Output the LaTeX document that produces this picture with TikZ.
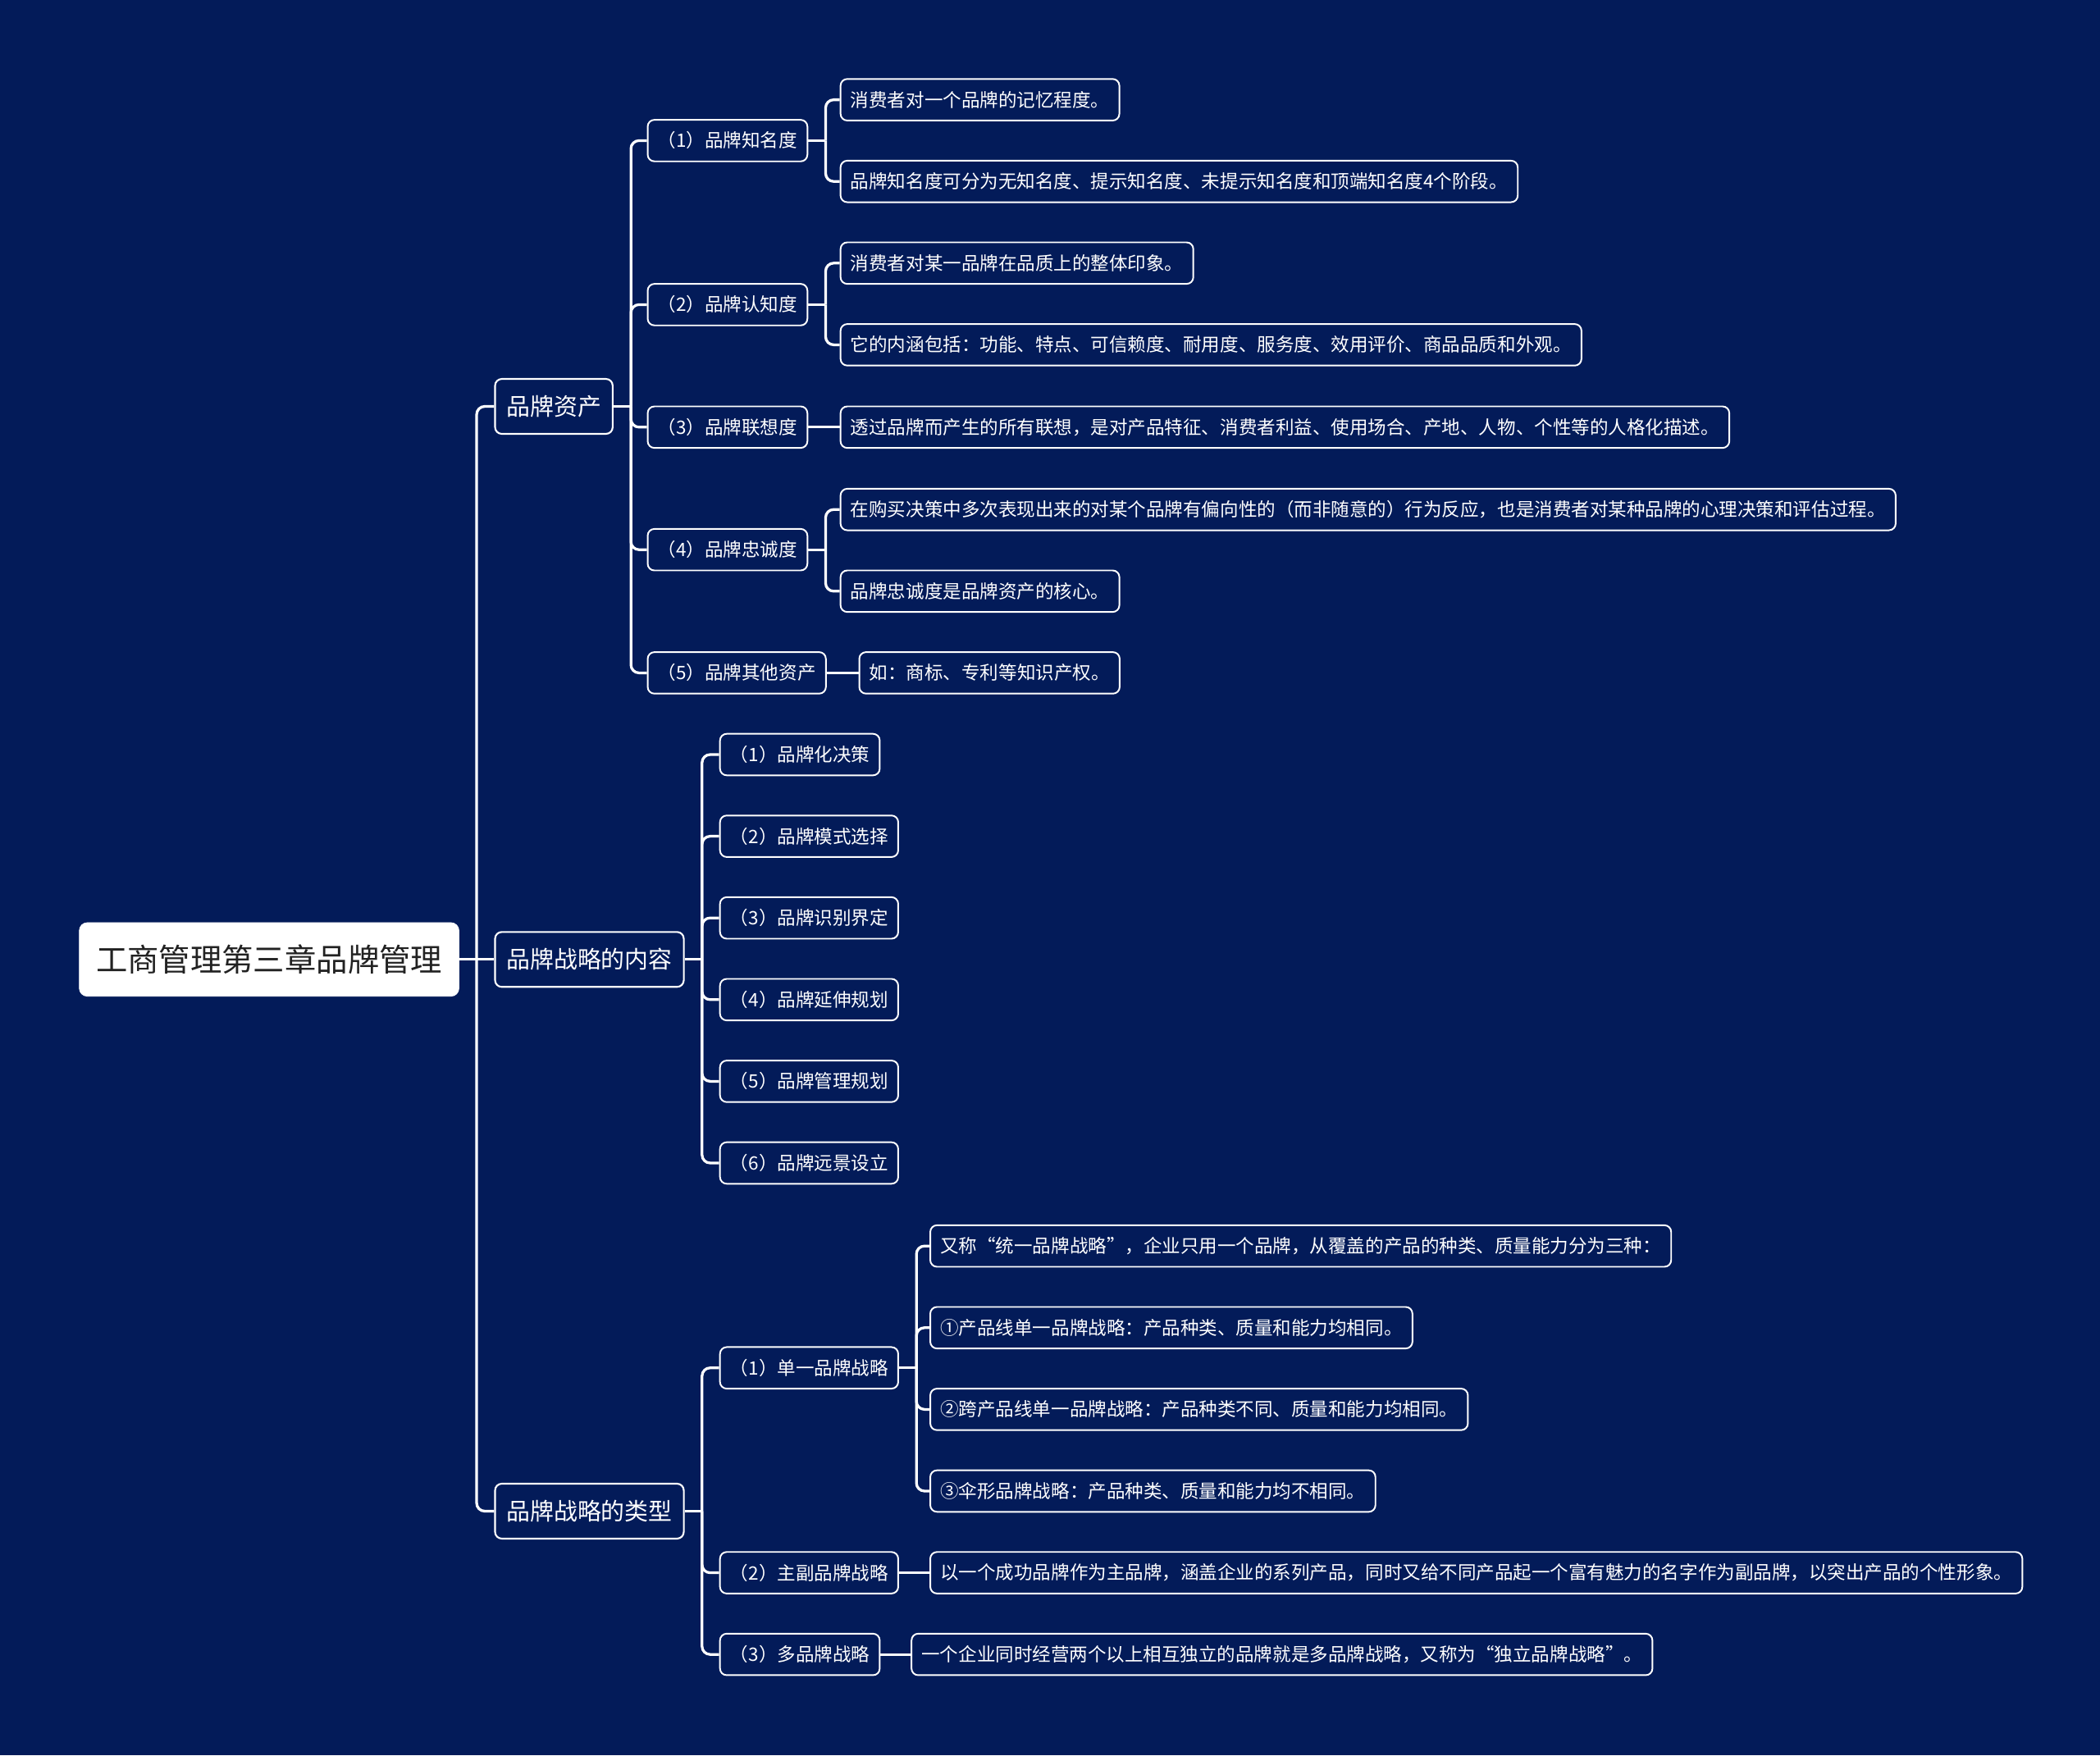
\documentclass[tikz,border=0pt]{standalone}
\usepackage{fontspec}
\usepackage{tikz}
\newfontfamily\zhfont{Noto Sans CJK SC}
\definecolor{bgnavy}{RGB}{3,27,89}
\definecolor{inkgray}{RGB}{34,34,34}

\begin{document}
\begin{tikzpicture}[x=1pt,y=-1pt,
	rootbox/.style={draw=white, fill=white, rounded corners=6pt, anchor=west, minimum height=55pt, inner xsep=12.5pt, text=inkgray, font=\zhfont\fontsize{23.5}{28}\selectfont},
	topicbox/.style={draw=white, line width=1.3pt, fill=bgnavy, rounded corners=5pt, anchor=west, minimum height=41pt, inner xsep=8.5pt, text=white, font=\zhfont\fontsize{17.7}{21}\selectfont},
	itembox/.style={draw=white, line width=1.2pt, fill=bgnavy, rounded corners=5pt, anchor=west, minimum height=31pt, inner xsep=7.5pt, text=white, font=\zhfont\fontsize{13.8}{16}\selectfont},
	link/.style={draw=white, line width=2pt, rounded corners=6pt}]
	\fill[bgnavy] (0,0) rectangle (1568,1311);
	\useasboundingbox (0,0) rectangle (1568,1311);

	\node[rootbox] (gsgl) at (59,716.5) {工商管理第三章品牌管理};
	\node[topicbox] (ppzc) at (369,303.5) {品牌资产};
	\node[topicbox] (zlnr) at (369,716.5) {品牌战略的内容};
	\node[topicbox] (zllx) at (369,1128.5) {品牌战略的类型};

	\node[itembox] (zmd) at (483,105) {（1）品牌知名度};
	\node[itembox] (rzd) at (483,227.5) {（2）品牌认知度};
	\node[itembox] (lxd) at (483,319) {（3）品牌联想度};
	\node[itembox] (zcd) at (483,410.5) {（4）品牌忠诚度};
	\node[itembox] (qtzc) at (483,502.5) {（5）品牌其他资产};

	\node[itembox] (zmd-a) at (627,74.5) {消费者对一个品牌的记忆程度。};
	\node[itembox] (zmd-b) at (627,135.5) {品牌知名度可分为无知名度、提示知名度、未提示知名度和顶端知名度4个阶段。};
	\node[itembox] (rzd-a) at (627,196.5) {消费者对某一品牌在品质上的整体印象。};
	\node[itembox] (rzd-b) at (627,257.5) {它的内涵包括：功能、特点、可信赖度、耐用度、服务度、效用评价、商品品质和外观。};
	\node[itembox] (lxd-a) at (627,319) {透过品牌而产生的所有联想，是对产品特征、消费者利益、使用场合、产地、人物、个性等的人格化描述。};
	\node[itembox] (zcd-a) at (627,380.5) {在购买决策中多次表现出来的对某个品牌有偏向性的（而非随意的）行为反应，也是消费者对某种品牌的心理决策和评估过程。};
	\node[itembox] (zcd-b) at (627,441.5) {品牌忠诚度是品牌资产的核心。};
	\node[itembox] (qtzc-a) at (641,502.5) {如：商标、专利等知识产权。};

	\node[itembox] (jc) at (537,563.5) {（1）品牌化决策};
	\node[itembox] (msxz) at (537,624.5) {（2）品牌模式选择};
	\node[itembox] (sbjd) at (537,685.5) {（3）品牌识别界定};
	\node[itembox] (yssh) at (537,746.5) {（4）品牌延伸规划};
	\node[itembox] (glgh) at (537,807.5) {（5）品牌管理规划};
	\node[itembox] (yjsl) at (537,868.5) {（6）品牌远景设立};

	\node[itembox] (dyzl) at (537,1021.5) {（1）单一品牌战略};
	\node[itembox] (zfzl) at (537,1174.5) {（2）主副品牌战略};
	\node[itembox] (dpzl) at (537,1235.5) {（3）多品牌战略};

	\node[itembox] (dyzl-a) at (694,930.5) {又称“统一品牌战略”，企业只用一个品牌，从覆盖的产品的种类、质量能力分为三种：};
	\node[itembox] (dyzl-b) at (694,991.5) {①产品线单一品牌战略：产品种类、质量和能力均相同。};
	\node[itembox] (dyzl-c) at (694,1052.5) {②跨产品线单一品牌战略：产品种类不同、质量和能力均相同。};
	\node[itembox] (dyzl-d) at (694,1113.5) {③伞形品牌战略：产品种类、质量和能力均不相同。};
	\node[itembox] (zfzl-a) at (694,1174.5) {以一个成功品牌作为主品牌，涵盖企业的系列产品，同时又给不同产品起一个富有魅力的名字作为副品牌，以突出产品的个性形象。};
	\node[itembox] (dpzl-a) at (680,1235.5) {一个企业同时经营两个以上相互独立的品牌就是多品牌战略，又称为“独立品牌战略”。};

	\draw[link] (gsgl.east) -- (zlnr.west);
	\path (gsgl.east) ++(13,0) coordinate (gsgl-j);
	\foreach \c in {ppzc,zllx} \draw[link] (gsgl-j) |- (\c.west);

	\draw[link] (ppzc.east) -- ++(13,0) coordinate (ppzc-j);
	\foreach \c in {zmd,rzd,lxd,zcd,qtzc} \draw[link] (ppzc-j) |- (\c.west);

	\draw[link] (zlnr.east) -- ++(13,0) coordinate (zlnr-j);
	\foreach \c in {jc,msxz,sbjd,yssh,glgh,yjsl} \draw[link] (zlnr-j) |- (\c.west);

	\draw[link] (zllx.east) -- ++(13,0) coordinate (zllx-j);
	\foreach \c in {dyzl,zfzl,dpzl} \draw[link] (zllx-j) |- (\c.west);

	\draw[link] (zmd.east) -- ++(13,0) coordinate (zmd-j);
	\foreach \c in {zmd-a,zmd-b} \draw[link] (zmd-j) |- (\c.west);
	\draw[link] (rzd.east) -- ++(13,0) coordinate (rzd-j);
	\foreach \c in {rzd-a,rzd-b} \draw[link] (rzd-j) |- (\c.west);
	\draw[link] (zcd.east) -- ++(13,0) coordinate (zcd-j);
	\foreach \c in {zcd-a,zcd-b} \draw[link] (zcd-j) |- (\c.west);
	\draw[link] (dyzl.east) -- ++(13,0) coordinate (dyzl-j);
	\foreach \c in {dyzl-a,dyzl-b,dyzl-c,dyzl-d} \draw[link] (dyzl-j) |- (\c.west);

	\draw[link] (lxd.east) -- (lxd-a.west);
	\draw[link] (qtzc.east) -- (qtzc-a.west);
	\draw[link] (zfzl.east) -- (zfzl-a.west);
	\draw[link] (dpzl.east) -- (dpzl-a.west);
\end{tikzpicture}
\end{document}
